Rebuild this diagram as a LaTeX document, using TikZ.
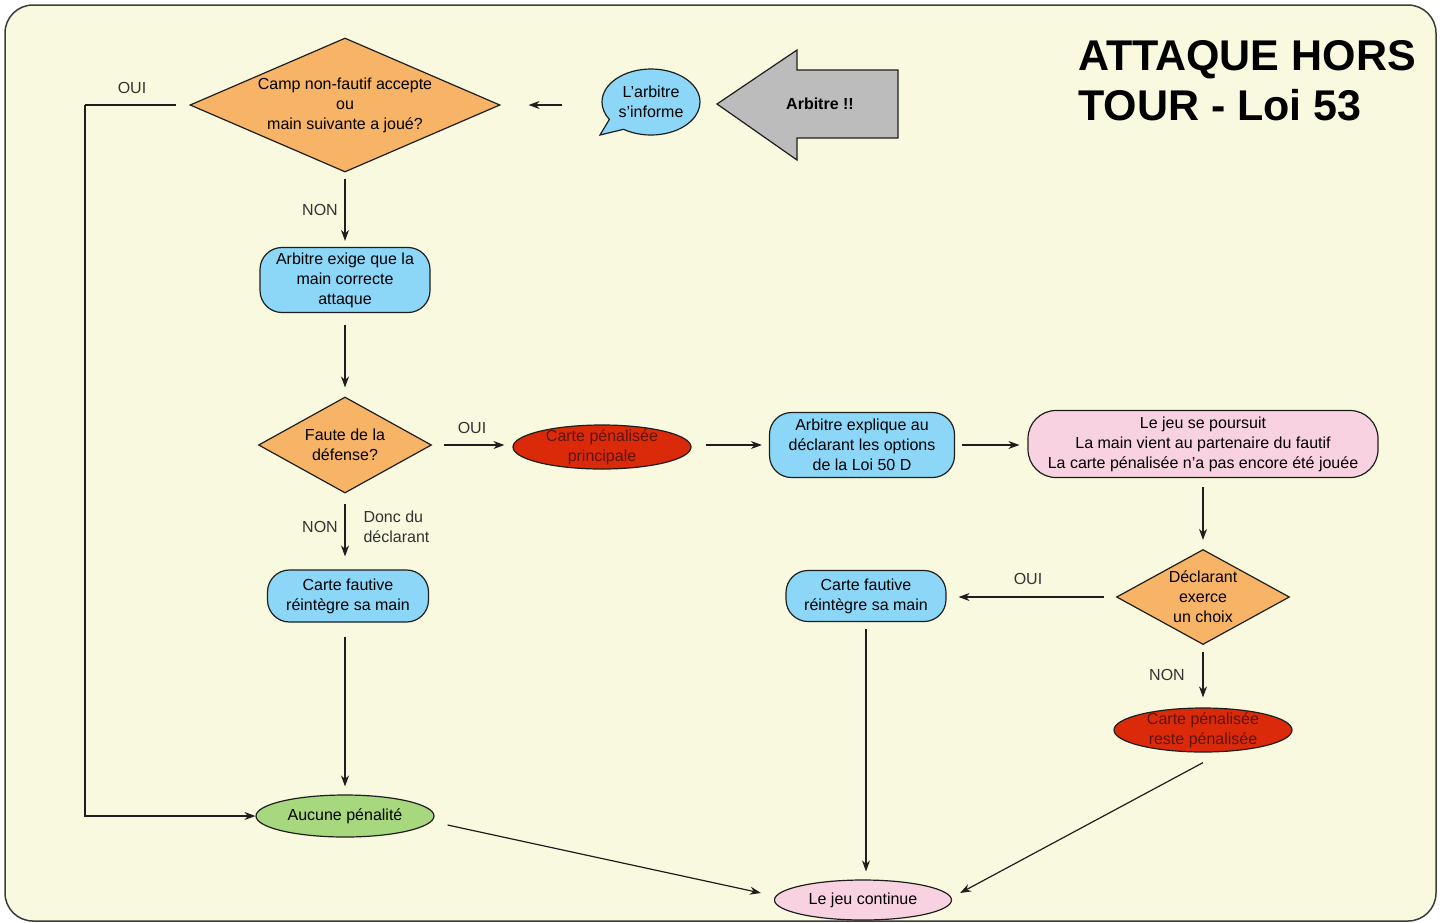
\documentclass[tikz,border=0pt]{standalone}
\usepackage{fontspec}
\setmainfont{Liberation Sans}
\usetikzlibrary{shapes.geometric,shapes.callouts,arrows.meta}
\definecolor{bgc}{RGB}{248,249,222}
\definecolor{framec}{RGB}{60,60,60}
\definecolor{orangec}{RGB}{248,180,102}
\definecolor{bluec}{RGB}{140,215,248}
\definecolor{pinkc}{RGB}{248,210,225}
\definecolor{redc}{RGB}{218,42,10}
\definecolor{redtext}{RGB}{95,20,10}
\definecolor{greenc}{RGB}{168,216,126}
\definecolor{grayc}{RGB}{188,188,188}
\definecolor{linec}{RGB}{30,30,30}
\begin{document}
\begin{tikzpicture}[x=1pt,y=-1pt,
  every node/.style={font=\fontsize{16}{20}\selectfont, align=center},
  shp/.style={draw=linec, line width=1.2pt},
  dia/.style={shp, diamond, fill=orangec, inner sep=0pt},
  rbox/.style={shp, rectangle, rounded corners=22pt, fill=bluec, inner sep=2pt},
  ell/.style={shp, ellipse, inner sep=0pt},
  arr/.style={-{Stealth[length=11pt,width=8pt]}, line width=1.2pt, draw=linec},
  lbl/.style={text=black!80}
]
\useasboundingbox (0,0) rectangle (1442,922);
\draw[fill=bgc, draw=framec, line width=1.5pt, rounded corners=28pt] (5,5) rectangle (1436,921);

% title
\node[anchor=north west, inner sep=0pt, align=left, font=\bfseries\fontsize{43}{50}\selectfont] (title) at (1078,40) {ATTAQUE HORS\\TOUR - Loi 53};

% big arrow
\draw[shp, fill=grayc] (717,104) -- (797,50) -- (797,70) -- (898,70) -- (898,138) -- (797,138) -- (797,160) -- cycle;
\node[font=\bfseries\fontsize{16}{20}\selectfont] (arb) at (820,104) {Arbitre !!};

% bubble
\node[shp, ellipse callout, fill=bluec, inner sep=0pt, minimum width=98pt, minimum height=66pt,
      callout absolute pointer={(600,135)}, callout pointer arc=24] (bub) at (651,102) {L'arbitre\\s'informe};

% nodes
\node[dia, aspect=2.3, minimum width=310pt, minimum height=134pt] (D1) at (345,105) {Camp non-fautif accepte\\ou\\main suivante a joué?};
\node[rbox, minimum width=170pt, minimum height=65pt] (B1) at (345,280) {Arbitre exige que la\\main correcte\\attaque};
\node[dia, aspect=1.8, minimum width=173pt, minimum height=96pt] (D2) at (345,445) {Faute de la\\défense?};
\node[ell, fill=redc, minimum width=178pt, minimum height=44pt,
      label={[text=redtext]center:{Carte pénalisée\\principale}}] (E1) at (602,447) {};
\node[rbox, minimum width=185pt, minimum height=65pt] (B2) at (862,445) {Arbitre explique au\\déclarant les options\\de la Loi 50 D};
\node[rbox, fill=pinkc, rounded corners=28pt, minimum width=350pt, minimum height=67pt] (B3) at (1203,444) {Le jeu se poursuit\\La main vient au partenaire du fautif\\La carte pénalisée n'a pas encore été jouée};
\node[dia, aspect=1.8, minimum width=173pt, minimum height=95pt] (D3) at (1203,597) {Déclarant\\exerce\\un choix};
\node[rbox, minimum width=160pt, minimum height=51pt] (B4) at (866,596) {Carte fautive\\réintègre sa main};
\node[ell, fill=redc, minimum width=178pt, minimum height=44pt,
      label={[text=redtext]center:{Carte pénalisée\\reste pénalisée}}] (E2) at (1203,730) {};
\node[rbox, minimum width=161pt, minimum height=52pt] (B5) at (348,596) {Carte fautive\\réintègre sa main};
\node[ell, fill=greenc, minimum width=178pt, minimum height=42pt] (E3) at (345,816) {Aucune pénalité};
\node[ell, fill=pinkc, minimum width=177pt, minimum height=40pt] (E4) at (863,900) {Le jeu continue};

% connectors
\coordinate (c1) at (85,105);
\draw[line width=1.2pt, draw=linec] ([xshift=-13pt]D1.west) -- (c1);
\draw[arr] (c1) |- (E3.west);
\draw[arr] ([xshift=-39pt]bub.west |- D1.east) -- ([xshift=28pt]D1.east);
\draw[arr, shorten <=6pt, shorten >=6pt] (D1.south) -- (B1.north);
\draw[arr, shorten <=12pt, shorten >=9pt] (B1.south) -- (D2.north);
\draw[arr, shorten <=12pt, shorten >=8pt] (D2.east) -- (D2.east -| E1.west);
\draw[arr, shorten <=14pt, shorten >=7pt] (E1.east |- B2.west) -- (B2.west);
\draw[arr, shorten <=7pt, shorten >=8pt] (B2.east) -- (B2.east -| B3.west);
\draw[arr, shorten <=9pt, shorten >=9pt] (B3.south) -- (D3.north);
\draw[arr, shorten <=12pt, shorten >=12pt] (D3.west) -- (D3.west -| B4.east);
\draw[arr, shorten <=7pt, shorten >=10pt] (D3.south) -- (E2.north);
\draw[arr, shorten <=10pt, shorten >=13pt] (D2.south) -- (D2.south |- B5.north);
\draw[arr, shorten <=14pt, shorten >=8pt] (D2.south |- B5.south) -- (D2.south |- E3.north);
\draw[arr, shorten <=7pt, shorten >=8pt] (B4.south) -- (B4.south |- E4.north);
\draw[arr] ([shift={(13,9)}]E3.east) -- ([shift={(-13,-7)}]E4.west);
\draw[arr] ([shift={(0,10)}]E2.south) -- ([shift={(8,-7)}]E4.east);

% labels
\node[lbl] (l1) at (132,88) {OUI};
\node[lbl] (l2) at (320,210) {NON};
\node[lbl] (l3) at (472,428) {OUI};
\node[lbl] (l4) at (320,527) {NON};
\node[lbl, align=left, anchor=west] (l5) at (360,527) {Donc du\\déclarant};
\node[lbl] (l6) at (1028,579) {OUI};
\node[lbl] (l7) at (1167,675) {NON};
\end{tikzpicture}
\end{document}
